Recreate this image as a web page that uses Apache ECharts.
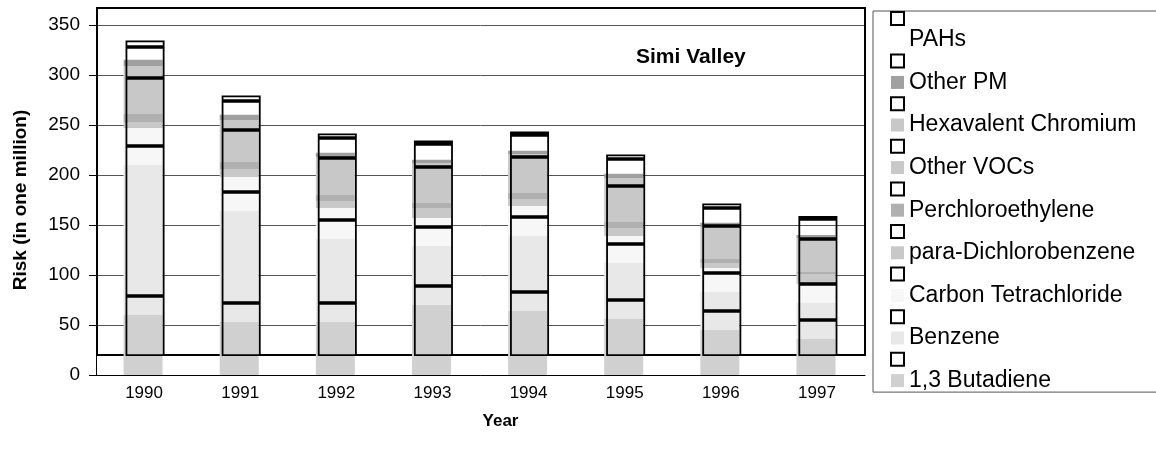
<!DOCTYPE html>
<html>
<head>
<meta charset="utf-8">
<script src="https://cdn.jsdelivr.net/npm/echarts@6/dist/echarts.min.js"></script>
<style>
  html, body { margin: 0; padding: 0; background: #fff; }
  #chart { width: 1156px; height: 461px; }
</style>
</head>
<body>
<div id="chart"></div>
<script>
// 年份
const years = ['1990', '1991', '1992', '1993', '1994', '1995', '1996', '1997'];

// 各污染物风险值（自下而上堆叠）
const butadiene = [60, 53, 53, 70, 64, 56, 45, 36];
const benzene = [150, 111, 83, 59, 75, 56, 38, 36];
const carbonTet = [37, 34, 31, 28, 30, 27, 24, 19];
const paraDcb = [6, 8, 7, 10, 7, 8, 5, 10];
const perc = [8, 7, 6, 5, 6, 6, 4, 2];
const otherVocs = [17, 13, 18, 17, 17, 17, 14, 14];
const hexChrom = [31, 29, 20, 23, 22, 27, 18, 20];
const otherPm = [6.5, 5.5, 4.5, 3.5, 3.5, 4.5, 4.5, 3];
const pahs = [0.5, 0.5, 0.5, 0.5, 0.5, 0.5, 0.5, 0.5];

// 3D 柱子的后框偏移（纵轴单位）
const depth = [19, 19, 19, 19, 19, 19, 19, 19];

const yTicks = [0, 50, 100, 150, 200, 250, 300, 350];

// 系列定义，自下而上
const pollutants = [
  { name: '1,3 Butadiene', data: butadiene, color: '#d0d0d0' },
  { name: 'Benzene', data: benzene, color: '#e8e8e8' },
  { name: 'Carbon Tetrachloride', data: carbonTet, color: '#f7f7f7' },
  { name: 'para-Dichlorobenzene', data: paraDcb, color: '#c8c8c8' },
  { name: 'Perchloroethylene', data: perc, color: '#b0b0b0' },
  { name: 'Other VOCs', data: otherVocs, color: '#c8c8c8' },
  { name: 'Hexavalent Chromium', data: hexChrom, color: '#c8c8c8' },
  { name: 'Other PM', data: otherPm, color: '#a0a0a0' },
  { name: 'PAHs', data: pahs, color: '#ffffff' }
];

// 后框里中间四段合成一个框（原图里中间没有分隔线）
const middle = years.map((y, i) => carbonTet[i] + paraDcb[i] + perc[i] + otherVocs[i]);
const backBoxes = [
  { name: '1,3 Butadiene#back', data: butadiene, width: 1.8 },
  { name: 'Benzene#back', data: benzene, width: 1.8 },
  { name: 'middle#back', data: middle, width: 1.8 },
  { name: 'Hexavalent Chromium#back', data: hexChrom, width: 1.8 },
  { name: 'Other PM#back', data: otherPm, width: 1.8 },
  { name: 'PAHs#back', data: pahs, width: 0 }
];
// 只用于图例的空系列
const legendOnly = ['Carbon Tetrachloride#back', 'para-Dichlorobenzene#back', 'Perchloroethylene#back', 'Other VOCs#back'];

const font = "'Liberation Sans', Arial, sans-serif";

const series = [];

// 前面：填充的柱子
pollutants.forEach(p => {
  series.push({
    name: p.name,
    type: 'bar',
    stack: 'front',
    barWidth: 39,
    barGap: '-95%',
    data: p.data,
    itemStyle: { color: p.color },
    z: 2
  });
});

// 后面：黑色边框的柱子，从 depth 开始堆叠
series.push({
  name: 'base',
  type: 'bar',
  stack: 'back',
  barWidth: 39,
  data: depth,
  itemStyle: { color: 'transparent' },
  silent: true,
  z: 3
});
backBoxes.forEach(b => {
  series.push({
    name: b.name,
    type: 'bar',
    stack: 'back',
    barWidth: 39,
    data: b.data,
    itemStyle: { color: 'transparent', borderColor: '#000', borderWidth: b.width },
    z: 3
  });
});
legendOnly.forEach(n => {
  series.push({
    name: n,
    type: 'bar',
    stack: 'back',
    barWidth: 39,
    data: [],
    itemStyle: { color: 'transparent', borderColor: '#000', borderWidth: 2 }
  });
});

// 图例：方框 + 色块交替
const legendData = [];
pollutants.slice().reverse().forEach(p => {
  legendData.push({
    name: p.name + '#back',
    itemStyle: { color: '#fff', borderColor: '#000', borderWidth: 2 }
  });
  legendData.push({
    name: p.name,
    itemStyle: { color: p.color, borderWidth: 0 }
  });
});

const chart = echarts.init(document.getElementById('chart'));
chart.setOption({
  animation: false,
  textStyle: { fontFamily: font },
  title: {
    text: 'Simi Valley',
    left: 631,
    top: 42,
    textStyle: { fontFamily: font, fontSize: 21, fontWeight: 'bold', color: '#000' }
  },
  legend: {
    orient: 'vertical',
    left: 873,
    top: 11,
    data: legendData,
    icon: 'rect',
    itemWidth: 13,
    itemHeight: 13,
    itemGap: 2.3,
    selectedMode: false,
    borderColor: '#555',
    borderWidth: 1,
    padding: [0, 40, 0, 17],
    formatter: n => (n.indexOf('#') >= 0 ? '' : n),
    textStyle: { fontFamily: font, fontSize: 23, color: '#000', lineHeight: 22 }
  },
  grid: [
    { left: 96, right: 291, top: 25, bottom: 86 },
    { left: 97, right: 291, top: 8, bottom: 106, show: true, borderColor: '#000', borderWidth: 2, z: 1 }
  ],
  xAxis: [
    {
      type: 'category',
      data: years,
      gridIndex: 0,
      name: 'Year',
      nameLocation: 'middle',
      nameGap: 38,
      nameTextStyle: { fontFamily: font, fontSize: 17, fontWeight: 'bold', color: '#000', padding: [0, 0, 0, 40] },
      axisLine: { lineStyle: { color: '#000', width: 1 } },
      axisTick: { lineStyle: { color: '#000' }, length: 6 },
      axisLabel: { fontFamily: font, fontSize: 17, color: '#000', margin: 10 }
    },
    { type: 'category', data: years, gridIndex: 1, show: false }
  ],
  yAxis: [
    {
      type: 'value',
      gridIndex: 0,
      min: yTicks[0],
      max: yTicks[yTicks.length - 1],
      interval: 50,
      name: 'Risk (in one million)',
      nameLocation: 'middle',
      nameGap: 66,
      nameTextStyle: { fontFamily: font, fontSize: 19, fontWeight: 'bold', color: '#000' },
      axisLine: { show: true, lineStyle: { color: '#000', width: 1 } },
      axisTick: { show: true, lineStyle: { color: '#000' }, length: 7 },
      axisLabel: { fontFamily: font, fontSize: 19, color: '#000', margin: 16 },
      splitLine: { lineStyle: { color: '#555', width: 1 } }
    },
    { type: 'value', gridIndex: 1, show: false, min: 0, max: 1, splitLine: { show: false } }
  ],
  series: series
});
</script>
</body>
</html>
